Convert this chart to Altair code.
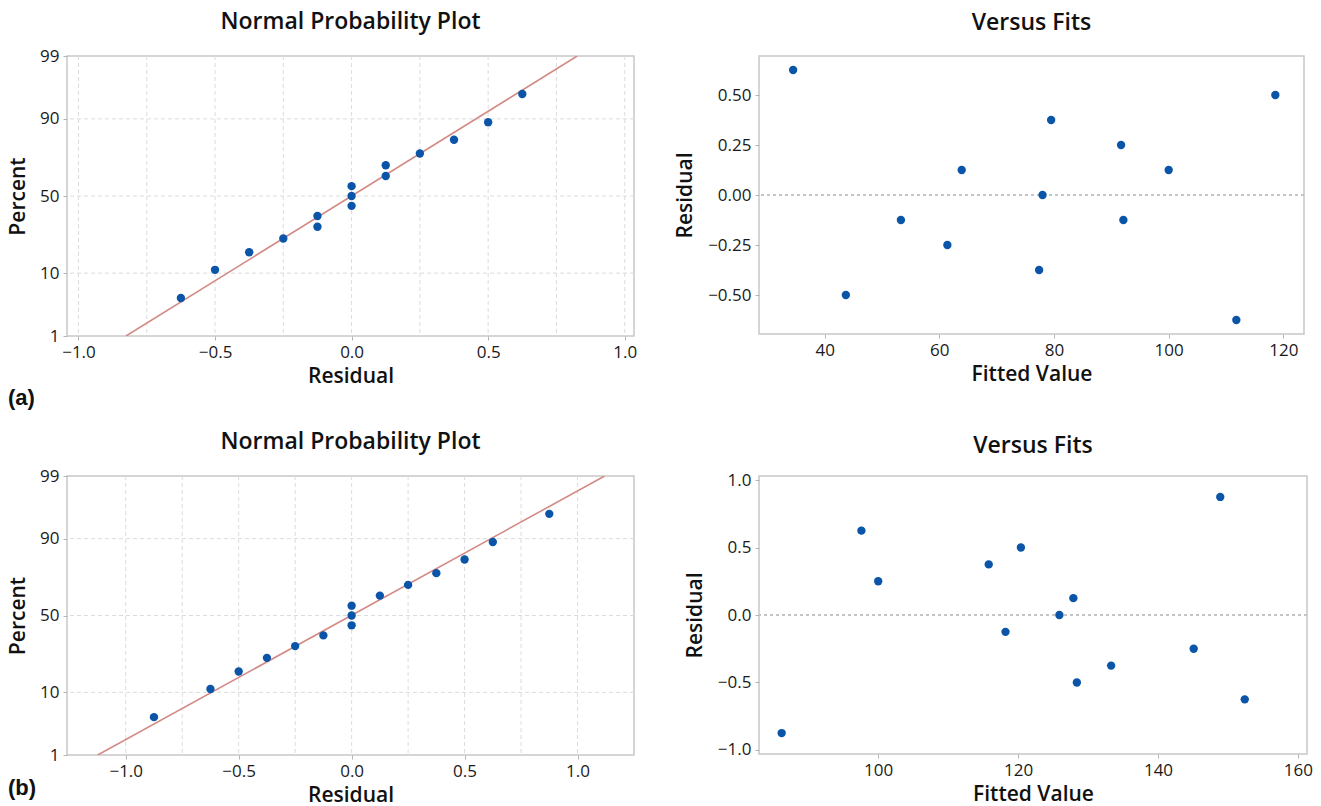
import altair as alt
import pandas as pd
from statistics import NormalDist

# ---------------- data ----------------
pct_ranks = [4.5, 11.0, 17.5, 24.0, 30.5, 37.0, 43.5, 50.0, 56.5, 63.0, 69.5, 76.0, 82.5, 89.0, 95.5]
pct_ticks = [1, 10, 50, 90, 99]

# (a) normal probability plot
npp_a_resid = [-0.625, -0.5, -0.375, -0.25, -0.125, -0.125, 0.0, 0.0, 0.0, 0.125, 0.125, 0.25, 0.375, 0.5, 0.625]
fit_a_resid = [-0.826, 0.826]
fit_pct = [1, 99]

# (a) versus fits
vf_a_fit = [34.5, 43.7, 53.3, 61.4, 63.9, 77.4, 78.0, 79.5, 91.7, 92.1, 100.0, 111.8, 118.6]
vf_a_resid = [0.625, -0.5, -0.125, -0.25, 0.125, -0.375, 0.0, 0.375, 0.25, -0.125, 0.125, -0.625, 0.5]

# (b) normal probability plot
npp_b_resid = [-0.875, -0.625, -0.5, -0.375, -0.25, -0.125, 0.0, 0.0, 0.0, 0.125, 0.25, 0.375, 0.5, 0.625, 0.875]
fit_b_resid = [-1.124, 1.12]

# (b) versus fits
vf_b_fit = [86.2, 97.6, 100.0, 115.8, 118.2, 120.4, 125.9, 127.9, 128.4, 133.3, 145.1, 148.9, 152.4]
vf_b_resid = [-0.875, 0.625, 0.25, 0.375, -0.125, 0.5, 0.0, 0.125, -0.5, -0.375, -0.25, 0.875, -0.625]

# ---------------- styling ----------------
BLUE = "#0b55a8"
LINE = "#d48a84"
GRID = "#dcdcdc"
FONT = "Open Sans"

nd = NormalDist()
def zq(p):
    return nd.inv_cdf(p / 100.0)

z_ticks = [zq(p) for p in pct_ticks]
expr = "''"
for zt, p in reversed(list(zip(z_ticks, pct_ticks))):
    expr = f"abs(datum.value - ({zt:.5f})) < 0.01 ? '{p}' : ({expr})"

axis_common = dict(
    labelFont=FONT, labelFontSize=17, labelColor="#1a1a1a",
    titleFont=FONT, titleFontSize=21, titleFontWeight=600, titleColor="#111111",
    tickColor="#b5b5b5", tickSize=4, domain=False, grid=False, labelPadding=4,
)

def title(text, off):
    return alt.TitleParams(text, font=FONT, fontSize=23, fontWeight=600,
                           color="#111111", offset=off)


def npp_panel(resid, fit_resid, xdom, grid_x, width, height, tag, tag_y):
    df = pd.DataFrame({"resid": resid, "z": [zq(p) for p in pct_ranks]})
    fit = pd.DataFrame({"resid": fit_resid, "z": [zq(p) for p in fit_pct]})
    xs = alt.Scale(domain=xdom, nice=False, zero=False)
    ys = alt.Scale(domain=[z_ticks[0], z_ticks[-1]], nice=False, zero=False)
    xax = alt.Axis(title="Residual", values=[-1.0, -0.5, 0.0, 0.5, 1.0], format=".1f",
                   titlePadding=5, **axis_common)
    yax = alt.Axis(title="Percent", values=z_ticks, labelExpr=expr,
                   titlePadding=11, **axis_common)

    vgrid = alt.Chart(pd.DataFrame({"resid": grid_x})).mark_rule(
        color=GRID, strokeDash=[4, 3], strokeWidth=1
    ).encode(x=alt.X("resid:Q", scale=xs, axis=xax))
    hgrid = alt.Chart(pd.DataFrame({"z": z_ticks[1:4]})).mark_rule(
        color=GRID, strokeDash=[4, 3], strokeWidth=1
    ).encode(y=alt.Y("z:Q", scale=ys, axis=yax))
    line = alt.Chart(fit).mark_line(color=LINE, strokeWidth=1.6, clip=True).encode(
        x=alt.X("resid:Q", scale=xs, axis=xax),
        y=alt.Y("z:Q", scale=ys, axis=yax),
    )
    pts = alt.Chart(df).mark_circle(size=70, color=BLUE, opacity=1).encode(
        x=alt.X("resid:Q", scale=xs, axis=xax),
        y=alt.Y("z:Q", scale=ys, axis=yax),
    )
    lab = alt.Chart(pd.DataFrame({"t": [tag]})).mark_text(
        align="left", baseline="middle", fontSize=22, fontWeight="bold",
        font="Liberation Sans", color="#111111"
    ).encode(text="t:N", x=alt.value(-59), y=alt.value(tag_y))
    return alt.layer(vgrid, hgrid, line, pts, lab).properties(
        width=width, height=height, title=title("Normal Probability Plot", 13),
    )


def vf_panel(fitv, resid, xdom, ydom, xticks, yticks, yfmt, width, height, toff):
    df = pd.DataFrame({"fit": fitv, "resid": resid})
    xs = alt.Scale(domain=xdom, nice=False, zero=False)
    ys = alt.Scale(domain=ydom, nice=False, zero=False)
    xax = alt.Axis(title="Fitted Value", values=xticks, format="d",
                   titlePadding=5, **axis_common)
    yax = alt.Axis(title="Residual", values=yticks, format=yfmt,
                   titlePadding=12, **axis_common)
    ref = alt.Chart(pd.DataFrame({"resid": [0.0]})).mark_rule(
        color="#c4c4c4", strokeDash=[3, 3], strokeWidth=2
    ).encode(y=alt.Y("resid:Q", scale=ys, axis=yax))
    pts = alt.Chart(df).mark_circle(size=70, color=BLUE, opacity=1).encode(
        x=alt.X("fit:Q", scale=xs, axis=xax),
        y=alt.Y("resid:Q", scale=ys, axis=yax),
    )
    return alt.layer(ref, pts).properties(
        width=width, height=height, title=title("Versus Fits", toff),
    )


a_npp = npp_panel(npp_a_resid, fit_a_resid, [-1.042, 1.034],
                  [-1.0, -0.75, -0.5, -0.25, 0.0, 0.25, 0.5, 0.75, 1.0],
                  567, 280, "(a)", 342)
a_vf = vf_panel(vf_a_fit, vf_a_resid, [28.55, 123.6], [-0.695, 0.695],
                [40, 60, 80, 100, 120], [-0.5, -0.25, 0.0, 0.25, 0.5], ".2f", 545, 278, 21)
b_npp = npp_panel(npp_b_resid, fit_b_resid, [-1.26, 1.25],
                  [-1.0, -0.75, -0.5, -0.25, 0.0, 0.25, 0.5, 0.75, 1.0],
                  567, 279, "(b)", 312)
b_vf = vf_panel(vf_b_fit, vf_b_resid, [82.96, 161.3], [-1.03, 1.03],
                [100, 120, 140, 160], [-1.0, -0.5, 0.0, 0.5, 1.0], ".1f", 548, 278, 13)

chart = alt.concat(
    a_npp, a_vf, b_npp, b_vf, columns=2, bounds="flush",
    spacing={"row": 140, "column": 125},
).properties(
    padding={"left": 6, "top": 10, "right": 5, "bottom": 2},
    background="white",
).configure_view(stroke="#c8c8c8", strokeWidth=1.5)

chart.save("out.html", embed_options={"renderer": "svg", "actions": False})
